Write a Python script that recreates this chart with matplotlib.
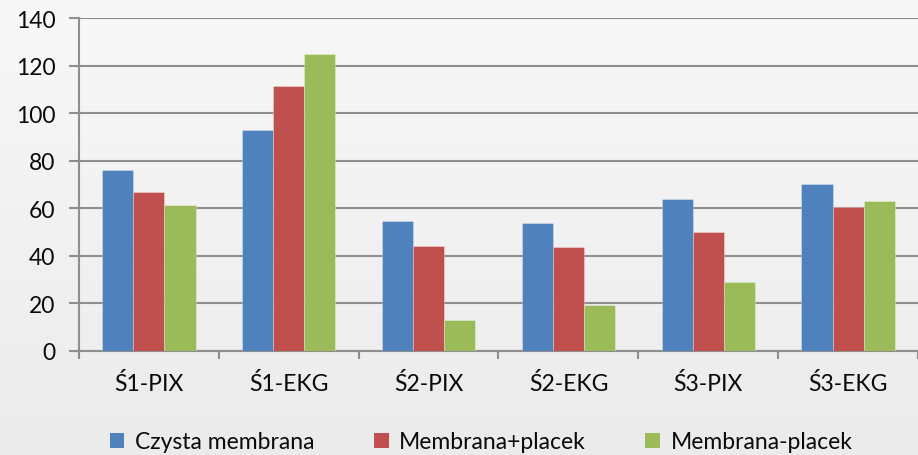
import numpy as np
import matplotlib
matplotlib.use("Agg")
import matplotlib.pyplot as plt
from matplotlib.patches import Patch

categories = ["Ś1-PIX", "Ś1-EKG", "Ś2-PIX", "Ś2-EKG", "Ś3-PIX", "Ś3-EKG"]
series_names = ["Czysta membrana", "Membrana+placek", "Membrana-placek"]
czysta = [76, 93, 54.5, 53.8, 63.8, 70.3]
plus_placek = [67, 111.5, 44, 43.7, 49.9, 60.7]
minus_placek = [61.2, 124.8, 13, 19.5, 28.9, 63.2]
yticks = [0, 20, 40, 60, 80, 100, 120, 140]

colors = ["#4f81bd", "#c0504d", "#9bbb59"]
grid_col = "#8e8e8e"

plt.rcParams["font.family"] = ["Lato", "DejaVu Sans"]

fig = plt.figure(figsize=(9.18, 4.56), dpi=100)

# soft vertical gradient behind everything
bg = fig.add_axes([0, 0, 1, 1], zorder=-10)
grad = np.linspace(0, 1, 256).reshape(-1, 1)
bg.imshow(grad, aspect="auto", cmap=matplotlib.colors.LinearSegmentedColormap.from_list(
    "g", ["#f8f8f8", "#ebebeb"]), extent=[0, 1, 0, 1], origin="upper")
bg.axis("off")

ax = fig.add_axes([79 / 918, 1 - 352 / 456, 1 - 79 / 918, (352 - 19) / 456])
ax.patch.set_alpha(0)

x = np.arange(len(categories))
w = 1 / 4.5
for k, vals in enumerate([czysta, plus_placek, minus_placek]):
    ax.bar(x + (k - 1) * w, vals, width=w, color=colors[k], zorder=3,
           edgecolor=(1, 1, 1, 0.35), linewidth=0.6)

ax.set_xlim(-0.5, len(categories) - 0.5)
ax.set_ylim(0, 140)
ax.set_yticks(yticks)
ax.yaxis.grid(True, color=grid_col, linewidth=1.5, zorder=0)
ax.set_axisbelow(True)

for s in ["top", "right"]:
    ax.spines[s].set_visible(False)
for s in ["left", "bottom"]:
    ax.spines[s].set_color(grid_col)
    ax.spines[s].set_linewidth(1.5)

ax.set_xticks(x)
ax.set_xticklabels(categories)
ax.set_xticks(np.arange(len(categories) + 1) - 0.5, minor=True)
ax.tick_params(axis="x", which="major", length=0, pad=15, labelsize=16.5, labelcolor="#0a0a0a")
ax.tick_params(axis="x", which="minor", length=5.5, width=1.5, color=grid_col)
ax.tick_params(axis="y", length=7, width=1.5, color=grid_col, pad=10, labelsize=16.5,
               labelcolor="#0a0a0a")

handles = [Patch(facecolor=c, edgecolor="none") for c in colors]
fig.legend(handles, series_names, loc="center", bbox_to_anchor=(481 / 918, 1 - 443 / 456),
           ncol=3, frameon=False, fontsize=16.5, handlelength=0.65, handleheight=0.65,
           handletextpad=0.45, columnspacing=2.6, labelcolor="#0a0a0a")

fig.savefig("out.png", dpi=100)
